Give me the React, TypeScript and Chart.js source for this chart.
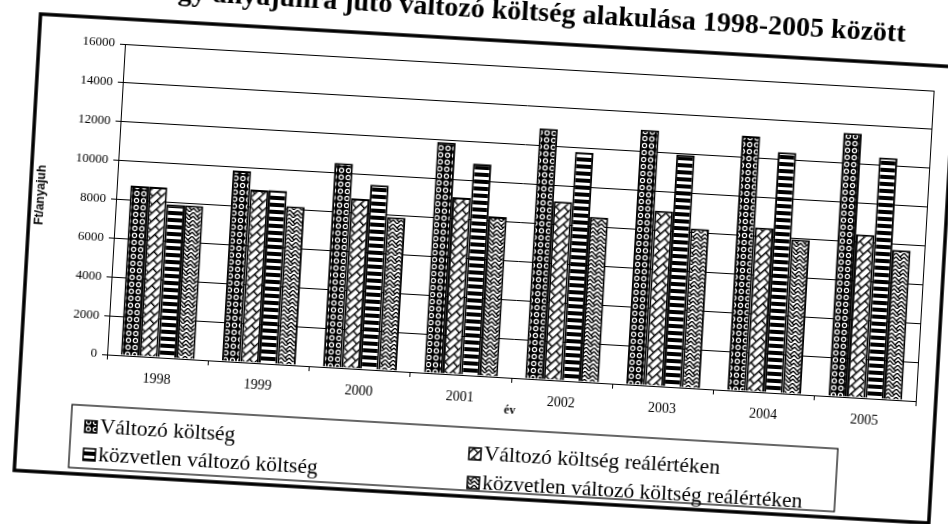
import React, { useEffect, useRef } from "react";
import { Chart, registerables } from "chart.js";

Chart.register(...registerables);

// ---- data ----
const categories = ["1998", "1999", "2000", "2001", "2002", "2003", "2004", "2005"];
const valtozoKoltseg = [8750, 9820, 10520, 11900, 12900, 13130, 13120, 13570];
const valtozoKoltsegReal = [8750, 8900, 8740, 9100, 9190, 9020, 8450, 8400];
const kozvetlenKoltseg = [7900, 8920, 9510, 10900, 11790, 11960, 12380, 12410];
const kozvetlenKoltsegReal = [7900, 8160, 7900, 8230, 8500, 8210, 7950, 7700];
const seriesNames = [
  "Változó költség",
  "Változó költség reálértéken",
  "közvetlen változó költség",
  "közvetlen változó költség reálértéken",
];
const titleText = "Egy anyajuhra jutó változó költség alakulása 1998-2005 között";
const yAxisTitle = "Ft/anyajuh";
const xAxisTitle = "év";
const yMin = 0;
const yMax = 16000;
const yStep = 2000;

// ---- layout constants ----
const W = 1000;
const H = 560;
const PLOT_LEFT = 130;
const PLOT_TOP = 100;
const SERIF = "'Liberation Serif', 'Times New Roman', serif";
const SANS = "'Liberation Sans', Arial, sans-serif";

function makeTile(w: number, h: number, draw: (g: CanvasRenderingContext2D) => void) {
  const c = document.createElement("canvas");
  c.width = w;
  c.height = h;
  const g = c.getContext("2d") as CanvasRenderingContext2D;
  draw(g);
  return c;
}

function makePatterns(ctx: CanvasRenderingContext2D) {
  // white rings with black centres on black
  const circles = makeTile(7, 7, (g) => {
    g.fillStyle = "#000";
    g.fillRect(0, 0, 7, 7);
    g.fillStyle = "#fff";
    g.beginPath();
    g.arc(3.5, 3.5, 2.7, 0, Math.PI * 2);
    g.fill();
    g.fillStyle = "#000";
    g.beginPath();
    g.arc(3.5, 3.5, 1.5, 0, Math.PI * 2);
    g.fill();
  });
  // diagonal brick
  const brick = makeTile(12, 12, (g) => {
    g.fillStyle = "#fff";
    g.fillRect(0, 0, 12, 12);
    g.strokeStyle = "#000";
    g.lineWidth = 1.4;
    g.beginPath();
    g.moveTo(0, 0.7); g.lineTo(12, 0.7);
    g.moveTo(0, 6.7); g.lineTo(12, 6.7);
    g.moveTo(0.7, 0); g.lineTo(0.7, 6.7);
    g.moveTo(6.7, 6.7); g.lineTo(6.7, 12);
    g.stroke();
  });
  // horizontal dashes on black
  const stripes = makeTile(2, 7, (g) => {
    g.fillStyle = "#000";
    g.fillRect(0, 0, 2, 7);
    g.fillStyle = "#fff";
    g.fillRect(0, 2, 2, 3);
  });
  // weave / herringbone
  const weave = makeTile(8, 8, (g) => {
    g.fillStyle = "#fff";
    g.fillRect(0, 0, 8, 8);
    g.strokeStyle = "#000";
    g.lineWidth = 1.3;
    g.beginPath();
    g.moveTo(0, 0); g.lineTo(4, 4); g.lineTo(8, 0);
    g.moveTo(0, 4); g.lineTo(4, 8); g.lineTo(8, 4);
    g.moveTo(4, 4); g.lineTo(6, 6);
    g.stroke();
  });
  const p1 = ctx.createPattern(circles, "repeat") as CanvasPattern;
  const p2 = ctx.createPattern(brick, "repeat") as CanvasPattern;
  try {
    p2.setTransform(new DOMMatrix().rotate(-45));
  } catch (e) {}
  const p3 = ctx.createPattern(stripes, "repeat") as CanvasPattern;
  const p4 = ctx.createPattern(weave, "repeat") as CanvasPattern;
  return [p1, p2, p3, p4];
}

export default function App() {
  const canvasRef = useRef<HTMLCanvasElement | null>(null);

  useEffect(() => {
    const canvas = canvasRef.current;
    if (!canvas) return;
    const ctx = canvas.getContext("2d") as CanvasRenderingContext2D;
    const patterns = makePatterns(ctx);
    const seriesValues = [valtozoKoltseg, valtozoKoltsegReal, kozvetlenKoltseg, kozvetlenKoltsegReal];

    const framePlugin = {
      id: "frame",
      beforeDraw(chart: any) {
        const c = chart.ctx;
        c.save();
        c.fillStyle = "#fff";
        c.fillRect(0, 0, chart.width, chart.height);
        c.strokeStyle = "#000";
        c.lineWidth = 3.5;
        c.strokeRect(PLOT_LEFT - 86, PLOT_TOP - 25, 916, 457);
        c.restore();
      },
      afterDraw(chart: any) {
        const c = chart.ctx;
        const a = chart.chartArea;
        c.save();
        c.strokeStyle = "#000";
        c.lineWidth = 1;
        c.strokeRect(Math.round(a.left) + 0.5, Math.round(a.top) + 0.5, Math.round(a.right - a.left), Math.round(a.bottom - a.top));
        // legend
        const bx = a.left - 32;
        const by = a.bottom + 52;
        c.lineWidth = 1.2;
        c.strokeRect(bx, by, 767, 63);
        const pos = [
          [a.left - 3, by + 21],
          [a.left + 382, by + 26],
          [a.left - 3, by + 49],
          [a.left + 382, by + 55],
        ];
        c.font = "21.5px " + SERIF;
        c.textBaseline = "middle";
        c.textAlign = "left";
        for (let i = 0; i < 4; i++) {
          const [tx, ty] = pos[i];
          const sx = tx - 15;
          const sy = ty - 6;
          c.fillStyle = patterns[i];
          c.fillRect(sx, sy, 12, 12);
          c.strokeStyle = "#000";
          c.lineWidth = 1.5;
          c.strokeRect(sx, sy, 12, 12);
          c.fillStyle = "#000";
          c.fillText(seriesNames[i], tx, ty);
        }
        c.restore();
      },
    };

    const chart = new Chart(canvas, {
      type: "bar",
      data: {
        labels: categories,
        datasets: seriesValues.map((vals, i) => ({
          label: seriesNames[i],
          data: vals,
          backgroundColor: patterns[i],
          borderColor: "#000",
          borderWidth: 2,
          categoryPercentage: 0.73,
          barPercentage: 1.0,
        })),
      },
      options: {
        responsive: false,
        animation: false,
        devicePixelRatio: 1,
        layout: { padding: { left: 43, right: 60, top: 0, bottom: 107 } },
        plugins: {
          legend: { display: false },
          tooltip: { enabled: false },
          title: {
            display: true,
            text: titleText,
            fullSize: false,
            color: "#000",
            font: { family: SERIF, size: 28, weight: "bold", lineHeight: 1.2 },
            padding: { top: 29.2, bottom: 37.2 },
          },
        },
        scales: {
          x: {
            offset: true,
            grid: {
              display: true,
              drawOnChartArea: false,
              drawTicks: true,
              tickLength: 5,
              color: "#000",
              offset: true,
            },
            border: { display: true, color: "#000", width: 1 },
            ticks: { color: "#000", font: { family: SERIF, size: 14 }, padding: 9, maxRotation: 0 },
            title: {
              display: true,
              text: xAxisTitle,
              color: "#000",
              font: { family: SERIF, size: 12, weight: "bold" },
              padding: { top: 0, bottom: 2 },
            },
            afterFit: (s: any) => {
              s.height = 42;
            },
          },
          y: {
            min: yMin,
            max: yMax,
            ticks: {
              stepSize: yStep,
              color: "#000",
              font: { family: SERIF, size: 13 },
              padding: 5,
              callback: (v: any) => String(v),
            },
            grid: { color: "#000", lineWidth: 1, tickLength: 5 },
            border: { display: true, color: "#000", width: 1 },
            title: {
              display: true,
              text: yAxisTitle,
              color: "#000",
              font: { family: SANS, size: 12, weight: "bold" },
              padding: { top: 4, bottom: 0 },
            },
            afterFit: (s: any) => {
              s.width = 87;
            },
          },
        },
      } as any,
      plugins: [framePlugin],
    });

    return () => chart.destroy();
  }, []);

  return (
    <div
      style={{
        position: "fixed",
        left: 0,
        top: 0,
        width: 948,
        height: 524,
        overflow: "hidden",
        background: "#fff",
      }}
    >
      <div
        style={{
          position: "absolute",
          left: 125 - PLOT_LEFT,
          top: 44 - PLOT_TOP,
          width: W,
          height: H,
          transformOrigin: `${PLOT_LEFT}px ${PLOT_TOP}px`,
          transform: "rotate(3.3deg)",
        }}
      >
        <canvas ref={canvasRef} width={W} height={H} style={{ width: W, height: H, display: "block" }} />
      </div>
    </div>
  );
}
